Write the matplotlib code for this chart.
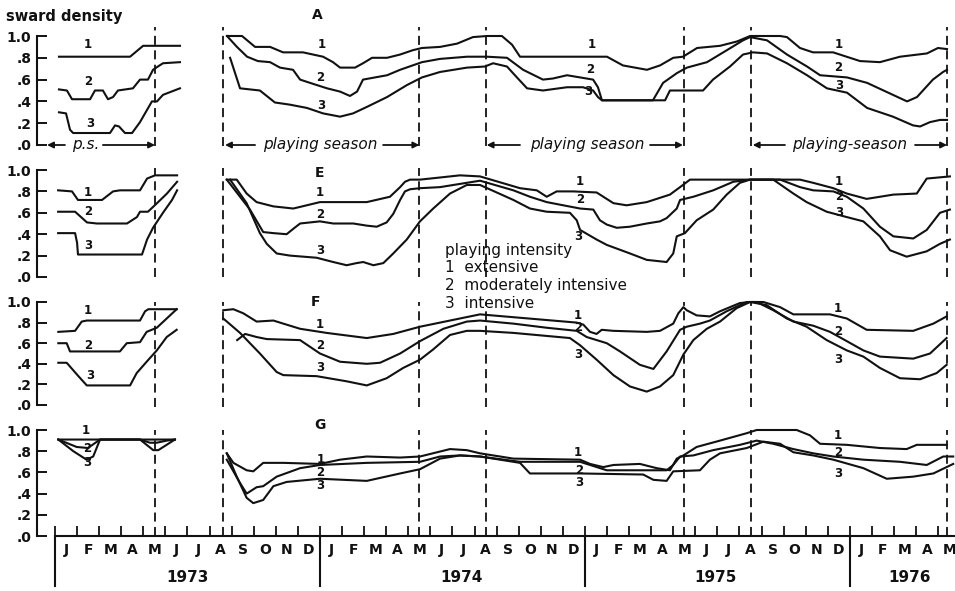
import matplotlib
matplotlib.use("Agg")
import matplotlib.pyplot as plt
import numpy as np

nan = np.nan
BREAK = (nan, nan)

# x = months since 1 Jan 1973, y = sward density (0..1)
# each line: 1973 part, break, Aug 1973 - May 1976 part

# Panel A
A1 = [(0.18, 0.81), (3.40, 0.81), (3.99, 0.91), (5.66, 0.91), BREAK,
      (7.79, 1.0), (8.47, 1.0), (9.06, 0.90), (9.74, 0.90), (10.33, 0.85), (11.23, 0.85),
      (12.14, 0.81), (12.59, 0.76), (12.91, 0.71), (13.59, 0.71), (13.95, 0.75), (14.36, 0.80),
      (15.04, 0.80), (15.63, 0.83), (16.21, 0.87), (16.62, 0.89), (17.44, 0.90), (18.21, 0.93),
      (18.93, 0.99), (19.57, 1.0), (20.24, 1.0), (20.70, 0.92), (21.06, 0.81), (23.78, 0.81),
      (25.0, 0.81), (25.72, 0.73), (26.81, 0.69), (27.40, 0.73), (28.0, 0.80), (28.44, 0.81),
      (29.08, 0.89), (30.12, 0.91), (30.89, 0.95), (31.48, 1.0), (32.84, 1.0), (33.15, 0.99),
      (33.74, 0.89), (34.33, 0.85), (35.24, 0.85), (36.46, 0.77), (37.36, 0.76), (38.27, 0.81),
      (39.49, 0.84), (39.99, 0.89), (40.4, 0.88)]
A2 = [(0.18, 0.51), (0.54, 0.50), (0.77, 0.42), (1.59, 0.42), (1.81, 0.50), (2.17, 0.50),
      (2.40, 0.42), (2.63, 0.44), (2.85, 0.50), (3.53, 0.52), (3.85, 0.60), (4.21, 0.60),
      (4.44, 0.69), (4.66, 0.72), (4.89, 0.75), (5.66, 0.76), BREAK,
      (7.79, 1.0), (8.24, 0.90), (8.70, 0.81), (9.19, 0.77), (9.74, 0.76), (10.19, 0.71),
      (10.78, 0.69), (11.10, 0.60), (11.55, 0.57), (12.32, 0.52), (12.91, 0.49), (13.36, 0.45),
      (13.68, 0.49), (13.95, 0.60), (15.04, 0.64), (15.63, 0.69), (16.62, 0.76), (17.44, 0.79),
      (18.66, 0.81), (19.57, 0.81), (20.47, 0.80), (21.20, 0.69), (22.10, 0.60), (22.55, 0.61),
      (23.19, 0.64), (23.78, 0.62), (24.37, 0.60), (24.59, 0.53), (24.77, 0.41), (27.08, 0.41),
      (27.54, 0.57), (28.17, 0.66), (28.62, 0.71), (29.53, 0.76), (30.43, 0.87), (31.16, 0.96),
      (31.48, 0.99), (32.25, 0.96), (33.15, 0.83), (34.06, 0.72), (34.65, 0.64), (35.87, 0.62),
      (36.78, 0.57), (37.95, 0.46), (38.59, 0.40), (39.04, 0.44), (39.76, 0.60), (40.22, 0.67),
      (40.4, 0.69)]
A3 = [(0.18, 0.30), (0.50, 0.29), (0.68, 0.14), (0.82, 0.11), (2.49, 0.11), (2.72, 0.18),
      (2.90, 0.17), (3.17, 0.11), (3.49, 0.11), (3.85, 0.21), (4.39, 0.40), (4.62, 0.40),
      (4.89, 0.46), (5.66, 0.52), BREAK,
      (7.93, 0.80), (8.38, 0.52), (9.28, 0.50), (9.96, 0.39), (10.64, 0.37), (11.41, 0.34),
      (12.14, 0.29), (12.91, 0.26), (13.50, 0.29), (14.13, 0.35), (15.04, 0.44), (15.94, 0.55),
      (16.62, 0.62), (17.44, 0.67), (18.66, 0.71), (19.47, 0.72), (19.84, 0.75), (20.47, 0.72),
      (20.92, 0.62), (21.38, 0.52), (22.10, 0.50), (23.19, 0.53), (23.91, 0.53), (24.37, 0.50),
      (24.59, 0.44), (24.77, 0.41), (27.63, 0.41), (27.85, 0.50), (29.35, 0.50), (29.80, 0.60),
      (30.57, 0.72), (31.16, 0.83), (31.61, 0.85), (32.25, 0.84), (33.15, 0.75), (34.06, 0.64),
      (34.96, 0.52), (35.87, 0.48), (36.78, 0.34), (37.95, 0.26), (38.86, 0.18), (39.18, 0.17),
      (39.63, 0.21), (40.08, 0.23), (40.4, 0.23)]

# Panel E
E1 = [(0.14, 0.81), (0.77, 0.80), (1.04, 0.72), (2.13, 0.72), (2.63, 0.80), (2.94, 0.81),
      (3.85, 0.81), (4.17, 0.92), (4.53, 0.95), (5.53, 0.95), BREAK,
      (7.78, 0.91), (8.23, 0.91), (8.68, 0.78), (9.13, 0.70), (9.89, 0.66), (10.79, 0.64),
      (11.40, 0.67), (12.0, 0.70), (14.12, 0.70), (15.17, 0.75), (15.63, 0.84), (15.85, 0.89),
      (16.08, 0.91), (16.53, 0.91), (17.44, 0.93), (18.34, 0.95), (19.25, 0.94), (21.06, 0.83),
      (21.82, 0.81), (22.27, 0.75), (22.72, 0.80), (23.47, 0.80), (24.53, 0.79), (25.29, 0.69),
      (25.89, 0.67), (26.80, 0.70), (27.85, 0.77), (28.31, 0.84), (28.76, 0.91), (33.74, 0.91),
      (34.34, 0.88), (35.25, 0.83), (35.86, 0.78), (36.76, 0.73), (37.97, 0.77), (39.03, 0.78),
      (39.48, 0.92), (40.53, 0.94)]
E2 = [(0.14, 0.61), (0.91, 0.61), (1.45, 0.51), (1.90, 0.50), (3.26, 0.50), (3.71, 0.56),
      (3.85, 0.61), (4.21, 0.61), (4.62, 0.69), (5.07, 0.78), (5.53, 0.89), BREAK,
      (7.78, 0.91), (8.83, 0.63), (9.43, 0.42), (9.89, 0.41), (10.49, 0.40), (10.79, 0.45),
      (11.10, 0.50), (12.0, 0.52), (12.60, 0.50), (13.51, 0.50), (14.12, 0.48), (14.57, 0.47),
      (15.02, 0.51), (15.32, 0.59), (15.63, 0.72), (15.85, 0.80), (16.08, 0.82), (16.53, 0.83),
      (17.44, 0.84), (18.34, 0.87), (19.25, 0.90), (20.76, 0.81), (21.51, 0.75), (22.27, 0.70),
      (23.02, 0.67), (23.78, 0.64), (24.38, 0.63), (24.68, 0.53), (24.99, 0.49), (25.44, 0.46),
      (26.04, 0.47), (26.80, 0.50), (27.40, 0.52), (27.70, 0.55), (28.16, 0.64), (28.31, 0.72),
      (28.91, 0.75), (29.81, 0.81), (30.72, 0.89), (31.48, 0.91), (32.84, 0.91), (33.74, 0.84),
      (34.34, 0.81), (35.25, 0.80), (35.86, 0.75), (36.61, 0.64), (37.36, 0.47), (37.97, 0.38),
      (38.87, 0.36), (39.48, 0.44), (40.08, 0.60), (40.53, 0.63)]
E3 = [(0.14, 0.41), (0.91, 0.41), (1.0, 0.32), (1.04, 0.21), (3.94, 0.21), (4.17, 0.35),
      (4.44, 0.46), (4.89, 0.60), (5.30, 0.72), (5.53, 0.81), BREAK,
      (7.93, 0.91), (8.68, 0.69), (9.28, 0.41), (9.59, 0.31), (10.04, 0.22), (10.64, 0.20),
      (11.85, 0.18), (12.60, 0.14), (13.21, 0.11), (13.66, 0.13), (13.96, 0.14), (14.42, 0.11),
      (14.87, 0.13), (15.32, 0.22), (15.93, 0.35), (16.53, 0.52), (17.13, 0.64), (17.89, 0.78),
      (18.65, 0.86), (19.25, 0.86), (20.76, 0.72), (21.51, 0.64), (22.27, 0.61), (23.32, 0.60),
      (23.63, 0.53), (23.78, 0.44), (24.53, 0.35), (24.99, 0.30), (26.04, 0.22), (26.80, 0.16),
      (27.70, 0.14), (28.00, 0.22), (28.16, 0.38), (28.53, 0.41), (29.06, 0.53), (29.81, 0.63),
      (30.42, 0.77), (31.02, 0.88), (31.48, 0.91), (32.53, 0.91), (33.44, 0.78), (34.04, 0.70),
      (34.95, 0.61), (35.86, 0.56), (36.61, 0.52), (37.36, 0.38), (37.82, 0.25), (38.57, 0.19),
      (39.48, 0.24), (40.08, 0.31), (40.53, 0.35)]

# Panel F
F1 = [(0.15, 0.71), (0.91, 0.72), (1.21, 0.81), (1.44, 0.82), (3.85, 0.82), (4.08, 0.91),
      (4.23, 0.93), (5.51, 0.93), BREAK,
      (7.62, 0.92), (8.08, 0.93), (8.53, 0.89), (9.13, 0.81), (9.89, 0.82), (10.34, 0.79),
      (11.10, 0.74), (12.30, 0.70), (14.12, 0.65), (15.32, 0.69), (16.53, 0.76), (17.89, 0.82),
      (19.25, 0.88), (23.63, 0.80), (23.93, 0.78), (24.23, 0.71), (24.53, 0.69), (24.76, 0.73),
      (25.29, 0.72), (26.80, 0.71), (27.40, 0.72), (28.00, 0.79), (28.23, 0.89), (28.46, 0.95),
      (28.61, 0.92), (29.06, 0.87), (29.66, 0.86), (30.12, 0.91), (31.02, 0.99), (31.48, 1.0),
      (32.08, 1.0), (32.84, 0.95), (33.44, 0.88), (35.10, 0.88), (35.86, 0.84), (36.76, 0.73),
      (38.87, 0.72), (39.78, 0.79), (40.38, 0.86)]
F2 = [(0.15, 0.60), (0.53, 0.60), (0.68, 0.52), (2.94, 0.52), (3.25, 0.60), (3.85, 0.61),
      (4.15, 0.71), (4.61, 0.75), (5.51, 0.93), BREAK,
      (8.25, 0.63), (8.61, 0.69), (9.13, 0.66), (9.59, 0.64), (11.10, 0.63), (12.0, 0.50),
      (12.91, 0.42), (14.12, 0.40), (14.72, 0.41), (15.63, 0.50), (16.53, 0.62), (17.59, 0.74),
      (18.65, 0.81), (19.25, 0.82), (20.76, 0.79), (22.27, 0.75), (23.63, 0.72), (24.08, 0.66),
      (24.99, 0.60), (25.59, 0.52), (26.49, 0.39), (27.10, 0.35), (27.70, 0.52), (28.31, 0.73),
      (28.61, 0.76), (29.21, 0.79), (29.66, 0.82), (30.42, 0.91), (31.33, 1.0), (31.78, 1.0),
      (32.53, 0.92), (33.44, 0.81), (34.34, 0.77), (35.10, 0.71), (35.86, 0.62), (36.61, 0.53),
      (37.36, 0.47), (38.87, 0.45), (39.63, 0.50), (40.38, 0.65)]
F3 = [(0.15, 0.41), (0.53, 0.41), (1.06, 0.28), (1.44, 0.19), (3.40, 0.19), (3.70, 0.31),
      (4.15, 0.42), (4.61, 0.53), (5.06, 0.66), (5.51, 0.73), BREAK,
      (7.62, 0.84), (8.38, 0.70), (9.28, 0.50), (10.04, 0.32), (10.34, 0.29), (11.85, 0.28),
      (13.21, 0.23), (14.12, 0.19), (15.02, 0.26), (15.77, 0.36), (16.53, 0.44), (17.13, 0.54),
      (17.89, 0.68), (18.65, 0.72), (19.25, 0.72), (20.76, 0.70), (23.32, 0.65), (23.78, 0.58),
      (24.53, 0.44), (25.29, 0.29), (26.04, 0.18), (26.80, 0.13), (27.40, 0.18), (28.00, 0.29),
      (28.46, 0.49), (28.91, 0.63), (29.52, 0.74), (30.12, 0.81), (30.87, 0.94), (31.48, 1.0),
      (32.23, 0.97), (33.14, 0.84), (34.04, 0.76), (34.95, 0.63), (35.86, 0.53), (36.61, 0.47),
      (37.36, 0.36), (38.27, 0.26), (39.18, 0.25), (39.93, 0.31), (40.38, 0.39)]

# Panel G
G1 = [(0.15, 0.91), (5.43, 0.91), BREAK,
      (7.78, 0.78), (8.08, 0.69), (8.68, 0.62), (8.98, 0.61), (9.43, 0.69), (10.34, 0.69),
      (12.0, 0.68), (12.91, 0.72), (14.12, 0.75), (15.63, 0.74), (16.53, 0.75), (17.89, 0.82),
      (18.65, 0.81), (19.25, 0.78), (20.76, 0.73), (23.78, 0.72), (24.23, 0.68), (24.83, 0.65),
      (25.29, 0.67), (26.49, 0.68), (27.25, 0.64), (27.85, 0.62), (28.16, 0.73), (28.46, 0.76),
      (29.06, 0.84), (30.12, 0.90), (31.33, 0.97), (31.78, 1.0), (33.59, 1.0), (34.19, 0.95),
      (34.65, 0.87), (35.86, 0.86), (37.36, 0.83), (38.57, 0.82), (39.03, 0.86), (40.38, 0.86)]
G2 = [(0.15, 0.91), (0.98, 0.84), (1.49, 0.83), (2.04, 0.91), (3.85, 0.91), (4.30, 0.88),
      (4.61, 0.88), (5.06, 0.90), (5.43, 0.91), BREAK,
      (7.78, 0.72), (8.38, 0.50), (8.68, 0.40), (9.13, 0.46), (9.43, 0.47), (10.04, 0.56),
      (11.10, 0.64), (12.0, 0.67), (14.12, 0.69), (16.53, 0.70), (17.44, 0.75), (18.34, 0.76),
      (19.25, 0.75), (21.06, 0.70), (23.78, 0.70), (24.99, 0.62), (27.70, 0.62), (28.0, 0.67),
      (28.31, 0.75), (28.91, 0.76), (29.81, 0.81), (31.02, 0.86), (31.78, 0.90), (32.53, 0.87),
      (33.44, 0.82), (34.34, 0.78), (35.25, 0.75), (36.61, 0.72), (38.27, 0.70), (39.48, 0.67),
      (40.23, 0.75), (40.68, 0.75)]
G3 = [(0.15, 0.91), (0.83, 0.80), (1.43, 0.72), (1.73, 0.75), (2.04, 0.91), (3.85, 0.91),
      (4.45, 0.81), (4.68, 0.81), (5.43, 0.91), BREAK,
      (7.78, 0.78), (8.23, 0.56), (8.68, 0.36), (8.98, 0.31), (9.43, 0.34), (9.89, 0.47),
      (10.49, 0.51), (12.0, 0.54), (14.12, 0.52), (15.63, 0.59), (16.53, 0.63), (17.44, 0.73),
      (18.34, 0.76), (19.25, 0.75), (21.06, 0.69), (21.51, 0.59), (23.78, 0.59), (26.64, 0.58),
      (27.10, 0.53), (27.70, 0.52), (28.0, 0.61), (29.21, 0.62), (29.66, 0.72), (30.12, 0.78),
      (31.33, 0.83), (32.08, 0.89), (32.84, 0.87), (33.44, 0.79), (34.34, 0.76), (35.25, 0.72),
      (36.61, 0.64), (37.67, 0.54), (38.87, 0.56), (39.78, 0.59), (40.68, 0.68)]

# line-number labels (x, y, text) per panel
A_labels = [(1.49, 0.92, "1"), (1.49, 0.58, "2"), (1.59, 0.20, "3"),
            (12.09, 0.92, "1"), (12.0, 0.62, "2"), (12.05, 0.36, "3"),
            (24.32, 0.92, "1"), (24.23, 0.69, "2"), (24.14, 0.49, "3"),
            (35.5, 0.92, "1"), (35.45, 0.71, "2"), (35.5, 0.55, "3")]
E_labels = [(1.49, 0.79, "1"), (1.49, 0.61, "2"), (1.49, 0.29, "3"),
            (12.0, 0.79, "1"), (12.0, 0.58, "2"), (12.0, 0.25, "3"),
            (23.78, 0.89, "1"), (23.78, 0.72, "2"), (23.69, 0.38, "3"),
            (35.5, 0.89, "1"), (35.5, 0.75, "2"), (35.5, 0.60, "3")]
F_labels = [(1.49, 0.92, "1"), (1.49, 0.58, "2"), (1.59, 0.29, "3"),
            (12.0, 0.78, "1"), (12.0, 0.58, "2"), (12.0, 0.36, "3"),
            (23.69, 0.87, "1"), (23.69, 0.75, "2"), (23.69, 0.49, "3"),
            (35.46, 0.94, "1"), (35.46, 0.71, "2"), (35.46, 0.44, "3")]
G_labels = [(1.4, 1.0, "1"), (1.45, 0.83, "2"), (1.45, 0.69, "3"),
            (12.05, 0.72, "1"), (12.0, 0.60, "2"), (12.0, 0.48, "3"),
            (23.69, 0.79, "1"), (23.73, 0.62, "2"), (23.73, 0.50, "3"),
            (35.46, 0.95, "1"), (35.46, 0.79, "2"), (35.46, 0.59, "3")]

# boundaries of the playing seasons (months)
season_marks = [4.55, 7.6, 16.5, 19.5, 28.5, 31.5, 40.4]
# season arrows in panel A: (left end, right end, text centre, text, left tail, right tail)
seasons = [(-0.36, 4.53, 1.40, "p.s.", 0.45, 2.17),
           (7.7, 16.5, 12.0, "playing season", 9.06, 14.86),
           (19.55, 28.44, 24.1, "playing season", 21.06, 26.95),
           (31.6, 40.4, 36.0, "playing-season", 33.06, 38.95)]

month_labels = list("JFMAMJJASOND") * 3 + list("JFMAM")
years = ["1973", "1974", "1975", "1976"]
year_starts = [0, 12, 24, 36]
year_centres = [6.0, 18.4, 29.9, 38.7]

y_ticks = [0, 0.2, 0.4, 0.6, 0.8, 1.0]
y_ticklabels = [".0", ".2", ".4", ".6", ".8", "1.0"]

# panel pixel rows (top of 1.0, bottom at .0) in a 955x591 picture
panels = [("A", [A1, A2, A3], A_labels, 36, 145, (11.9, 1.19), (-0.01, 1.08)),
          ("E", [E1, E2, E3], E_labels, 170, 277, (12.0, 0.97), (0.0, 1.02)),
          ("F", [F1, F2, F3], F_labels, 302, 405, (11.8, 1.0), (-0.02, 1.0)),
          ("G", [G1, G2, G3], G_labels, 430, 536, (12.0, 1.05), (0.0, 1.0))]

W, H = 955, 591
XMIN = (37 - 55) / 22.08
XMAX = (955 - 55) / 22.08
INK = "#111111"

fig = plt.figure(figsize=(W / 100, H / 100), dpi=100)
fig.patch.set_facecolor("white")

axes = []
for name, lines, labels, top, bottom, letter_pos, dash_span in panels:
    ax = fig.add_axes([37 / W, 1 - bottom / H, (W - 37) / W, (bottom - top) / H])
    ax.set_xlim(XMIN, XMAX)
    ax.set_ylim(0, 1)
    ax.patch.set_alpha(0)
    for s in ["top", "right", "bottom"]:
        ax.spines[s].set_visible(False)
    ax.spines["left"].set_linewidth(1.5)
    ax.spines["left"].set_color(INK)
    ax.set_yticks(y_ticks)
    ax.set_yticklabels(y_ticklabels, fontsize=10, fontweight="bold", color=INK)
    ax.tick_params(axis="y", direction="in", length=7.5, width=1.4, pad=4, colors=INK)
    ax.set_xticks([])

    for pts in lines:
        arr = np.array(pts, dtype=float)
        ax.plot(arr[:, 0], arr[:, 1], color=INK, lw=1.5, clip_on=False,
                solid_joinstyle="round")

    for m in season_marks:
        ax.axvline(m, ymin=dash_span[0], ymax=dash_span[1], color=INK, lw=1.3,
                   dashes=(5, 3), clip_on=False)

    for x, y, t in labels:
        ax.text(x, y, t, fontsize=8.5, fontweight="bold", ha="center", va="center",
                color=INK)

    ax.text(letter_pos[0], letter_pos[1], name, fontsize=10, fontweight="bold",
            ha="center", va="center", color=INK, clip_on=False)
    axes.append(ax)

# playing season arrows in panel A
axA = axes[0]
for left, right, centre, text, tail_l, tail_r in seasons:
    axA.text(centre, 0.0, text, fontsize=11, style="italic", ha="center", va="center",
             color=INK)
    arrow = dict(arrowstyle="-|>", color=INK, lw=1.3, mutation_scale=9,
                 shrinkA=0, shrinkB=0)
    axA.annotate("", xy=(left, 0.0), xytext=(tail_l, 0.0), arrowprops=arrow,
                 annotation_clip=False)
    axA.annotate("", xy=(right, 0.0), xytext=(tail_r, 0.0), arrowprops=arrow,
                 annotation_clip=False)

# time axis under panel G
axG = axes[3]
axG.spines["bottom"].set_visible(True)
axG.spines["bottom"].set_linewidth(1.5)
axG.spines["bottom"].set_color(INK)
axG.spines["bottom"].set_bounds(0, XMAX)
axG.set_xticks(np.arange(0, 41))
axG.set_xticklabels([])
axG.set_xticks(np.arange(len(month_labels)) + 0.5, minor=True)
axG.set_xticklabels(month_labels, minor=True, fontsize=10, fontweight="bold", color=INK)
axG.tick_params(axis="x", which="major", direction="in", length=7.5, width=1.3, colors=INK)
axG.tick_params(axis="x", which="minor", length=0, pad=5, colors=INK)

for m in year_starts:
    axG.axvline(m, ymin=-0.47, ymax=0, color=INK, lw=1.5, clip_on=False)
for m, t in zip(year_centres, years):
    axG.text(m, -0.39, t, fontsize=11, fontweight="bold", ha="center", va="center",
             color=INK, transform=axG.get_xaxis_transform())

# titles and legend
fig.text(6 / W, 1 - 17 / H, "sward density", fontsize=10.5, fontweight="bold",
         ha="left", va="center", color=INK)
legend_rows = ["playing intensity", "1  extensive", "2  moderately intensive", "3  intensive"]
for i, row in enumerate(legend_rows):
    fig.text(445 / W, 1 - (250 + 17.7 * i) / H, row, fontsize=11, ha="left", va="center",
             color=INK)

fig.savefig("out.png", dpi=100, facecolor="white")
